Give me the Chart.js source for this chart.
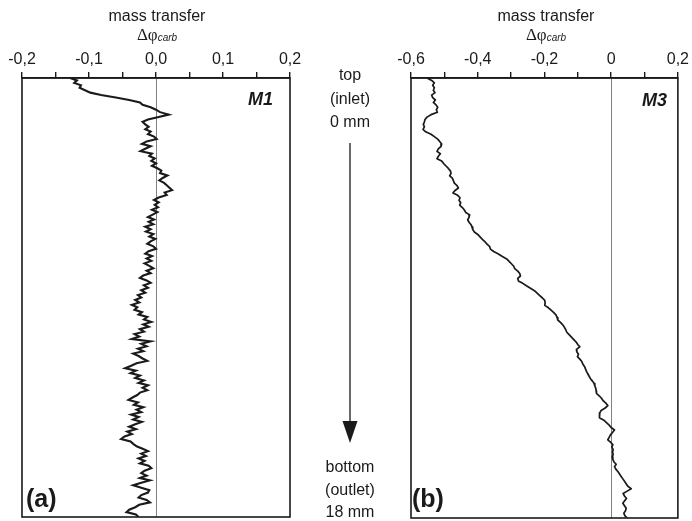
<!DOCTYPE html>
<html>
<head>
<meta charset="utf-8">
<script src="https://cdn.jsdelivr.net/npm/chart.js@4/dist/chart.umd.min.js"></script>
<style>
  html, body { margin: 0; padding: 0; background: #fff; }
  #wrap { position: relative; width: 692px; height: 521px; overflow: hidden; }
  canvas, svg { position: absolute; left: 0; top: 0; }
  svg text { font-family: "Liberation Sans", Arial, sans-serif; fill: #1a1a1a; }
</style>
</head>
<body>
<div id="wrap">
  <canvas id="panelA" width="692" height="521"></canvas>
  <canvas id="panelB" width="692" height="521"></canvas>
  <svg width="692" height="521" viewBox="0 0 692 521">
    <text x="157" y="21" font-size="16" text-anchor="middle">mass transfer</text>
    <text x="157" y="40" text-anchor="middle"><tspan font-family="Liberation Serif" font-size="17">Δφ</tspan><tspan font-size="10" font-style="italic" dy="1">carb</tspan></text>
    <text x="546" y="21" font-size="16" text-anchor="middle">mass transfer</text>
    <text x="546" y="40" text-anchor="middle"><tspan font-family="Liberation Serif" font-size="17">Δφ</tspan><tspan font-size="10" font-style="italic" dy="1">carb</tspan></text>

    <text x="273" y="105" font-size="18" font-weight="bold" font-style="italic" text-anchor="end">M1</text>
    <text x="667" y="106" font-size="18" font-weight="bold" font-style="italic" text-anchor="end">M3</text>
    <text x="26" y="507" font-size="25" font-weight="bold">(a)</text>
    <text x="412" y="507" font-size="25" font-weight="bold">(b)</text>

    <text x="350" y="80" font-size="16" text-anchor="middle">top</text>
    <text x="350" y="104" font-size="16" text-anchor="middle">(inlet)</text>
    <text x="350" y="127" font-size="16" text-anchor="middle">0 mm</text>
    <line x1="350" y1="143" x2="350" y2="424" stroke="#1a1a1a" stroke-width="1.3"/>
    <polygon points="342.5,421 357.5,421 350,443" fill="#1a1a1a"/>
    <text x="350" y="472" font-size="16" text-anchor="middle">bottom</text>
    <text x="350" y="495" font-size="16" text-anchor="middle">(outlet)</text>
    <text x="350" y="517" font-size="16" text-anchor="middle">18 mm</text>
  </svg>
</div>
<script>
// Depth along the sample (mm), 0 = top / inlet, 18 = bottom / outlet
const depthMm = [
  0.0, 0.1, 0.2, 0.3, 0.4, 0.5, 0.6, 0.7, 0.8, 0.9,
  1.0, 1.1, 1.2, 1.3, 1.4, 1.5, 1.6, 1.7, 1.8, 1.9,
  2.0, 2.1, 2.2, 2.3, 2.4, 2.5, 2.6, 2.7, 2.8, 2.9,
  3.0, 3.1, 3.2, 3.3, 3.4, 3.5, 3.6, 3.7, 3.8, 3.9,
  4.0, 4.1, 4.2, 4.3, 4.4, 4.5, 4.6, 4.7, 4.8, 4.9,
  5.0, 5.1, 5.2, 5.3, 5.4, 5.5, 5.6, 5.7, 5.8, 5.9,
  6.0, 6.1, 6.2, 6.3, 6.4, 6.5, 6.6, 6.7, 6.8, 6.9,
  7.0, 7.1, 7.2, 7.3, 7.4, 7.5, 7.6, 7.7, 7.8, 7.9,
  8.0, 8.1, 8.2, 8.3, 8.4, 8.5, 8.6, 8.7, 8.8, 8.9,
  9.0, 9.1, 9.2, 9.3, 9.4, 9.5, 9.6, 9.7, 9.8, 9.9,
  10.0, 10.1, 10.2, 10.3, 10.4, 10.5, 10.6, 10.7, 10.8, 10.9,
  11.0, 11.1, 11.2, 11.3, 11.4, 11.5, 11.6, 11.7, 11.8, 11.9,
  12.0, 12.1, 12.2, 12.3, 12.4, 12.5, 12.6, 12.7, 12.8, 12.9,
  13.0, 13.1, 13.2, 13.3, 13.4, 13.5, 13.6, 13.7, 13.8, 13.9,
  14.0, 14.1, 14.2, 14.3, 14.4, 14.5, 14.6, 14.7, 14.8, 14.9,
  15.0, 15.1, 15.2, 15.3, 15.4, 15.5, 15.6, 15.7, 15.8, 15.9,
  16.0, 16.1, 16.2, 16.3, 16.4, 16.5, 16.6, 16.7, 16.8, 16.9,
  17.0, 17.1, 17.2, 17.3, 17.4, 17.5, 17.6, 17.7, 17.8, 17.9,
  18.0
];

// Sample M1: carbonate volume fraction change
const deltaM1 = [
  -0.128, -0.118, -0.122, -0.112, -0.114, -0.106, -0.098, -0.082, -0.060, -0.040,
  -0.024, -0.020, -0.008, 0.000, 0.006, 0.019, 0.004, -0.012, -0.020, -0.016,
  -0.011, -0.016, -0.008, -0.012, -0.003, 0.001, -0.014, -0.021, -0.008, -0.016,
  -0.023, -0.006, -0.010, -0.002, -0.007, 0.000, -0.006, 0.002, 0.008, 0.006,
  0.017, 0.010, 0.005, 0.012, 0.016, 0.020, 0.024, 0.013, 0.016, 0.004,
  -0.003, 0.004, -0.002, 0.003, -0.006, 0.002, -0.005, -0.012, -0.003, -0.011,
  -0.004, -0.016, -0.008, -0.015, -0.004, -0.010, -0.001, -0.008, -0.013, -0.004,
  0.000, -0.011, -0.016, -0.006, -0.014, -0.007, -0.017, -0.010, -0.004, -0.014,
  -0.008, -0.019, -0.024, -0.014, -0.008, -0.018, -0.012, -0.022, -0.016, -0.027,
  -0.022, -0.031, -0.025, -0.036, -0.028, -0.032, -0.021, -0.026, -0.013, -0.018,
  -0.007, -0.019, -0.011, -0.024, -0.018, -0.032, -0.025, -0.036, -0.008, -0.022,
  -0.014, -0.027, -0.019, -0.034, -0.026, -0.020, -0.013, -0.029, -0.037, -0.046,
  -0.030, -0.038, -0.024, -0.031, -0.018, -0.026, -0.012, -0.020, -0.013, -0.024,
  -0.028, -0.035, -0.041, -0.027, -0.033, -0.019, -0.029, -0.022, -0.037, -0.026,
  -0.034, -0.021, -0.031, -0.040, -0.030, -0.043, -0.036, -0.047, -0.052, -0.038,
  -0.034, -0.029, -0.020, -0.012, -0.022, -0.015, -0.026, -0.017, -0.024, -0.011,
  -0.007, -0.017, -0.022, -0.014, -0.024, -0.009, -0.022, -0.034, -0.022, -0.010,
  -0.012, -0.022, -0.026, -0.014, -0.009, -0.025, -0.031, -0.040, -0.044, -0.030,
  -0.026
];

// Sample M3: carbonate volume fraction change
const deltaM3 = [
  -0.552, -0.538, -0.530, -0.535, -0.530, -0.533, -0.528, -0.538, -0.535, -0.527,
  -0.533, -0.525, -0.520, -0.524, -0.521, -0.540, -0.552, -0.558, -0.560, -0.563,
  -0.560, -0.564, -0.556, -0.540, -0.530, -0.520, -0.514, -0.508, -0.510, -0.518,
  -0.522, -0.512, -0.518, -0.522, -0.508, -0.502, -0.495, -0.488, -0.482, -0.480,
  -0.484, -0.476, -0.473, -0.470, -0.462, -0.458, -0.468, -0.474, -0.460, -0.453,
  -0.456, -0.451, -0.454, -0.446, -0.440, -0.436, -0.424, -0.426, -0.430, -0.426,
  -0.420, -0.417, -0.415, -0.410, -0.400, -0.393, -0.386, -0.378, -0.372, -0.364,
  -0.362, -0.352, -0.338, -0.326, -0.313, -0.306, -0.299, -0.292, -0.289, -0.280,
  -0.274, -0.272, -0.280, -0.278, -0.265, -0.254, -0.242, -0.230, -0.222, -0.214,
  -0.206, -0.199, -0.198, -0.199, -0.188, -0.180, -0.172, -0.165, -0.162, -0.160,
  -0.152, -0.145, -0.140, -0.136, -0.133, -0.126, -0.119, -0.112, -0.105, -0.100,
  -0.094, -0.104, -0.103, -0.098, -0.101, -0.094, -0.088, -0.085, -0.080, -0.077,
  -0.074, -0.070, -0.066, -0.062, -0.056, -0.051, -0.049, -0.046, -0.045, -0.044,
  -0.036, -0.029, -0.024, -0.016, -0.010, -0.018, -0.030, -0.034, -0.036, -0.034,
  -0.022, -0.014, -0.006, 0.000, 0.010, 0.004, -0.002, -0.006, -0.010, -0.002,
  0.005, 0.002, 0.006, 0.004, 0.006, 0.003, 0.005, 0.008, 0.015, 0.010,
  0.014, 0.020, 0.025, 0.030, 0.035, 0.040, 0.045, 0.050, 0.060, 0.048,
  0.036, 0.040, 0.046, 0.040, 0.035, 0.040, 0.045, 0.043, 0.038, 0.041,
  0.048
];

// Axis ticks (labelled values and their printed form)
const ticksM1 = [-0.2, -0.1, 0.0, 0.1, 0.2];
const tickLabelsM1 = ['-0,2', '-0,1', '0,0', '0,1', '0,2'];
const ticksM3 = [-0.6, -0.4, -0.2, 0.0, 0.2];
const tickLabelsM3 = ['-0,6', '-0,4', '-0,2', '0', '0,2'];

const INK = '#1a1a1a';

// Frame around the plot area plus the thin zero reference line
const framePlugin = {
  id: 'frame',
  beforeDatasetsDraw(chart) {
    const { ctx, chartArea: a, scales } = chart;
    const x0 = scales.x.getPixelForValue(0);
    ctx.save();
    ctx.strokeStyle = '#808080';
    ctx.lineWidth = 1;
    ctx.beginPath();
    ctx.moveTo(Math.round(x0) + 0.5, a.top);
    ctx.lineTo(Math.round(x0) + 0.5, a.bottom);
    ctx.stroke();
    ctx.restore();
  },
  afterDraw(chart) {
    const { ctx, chartArea: a } = chart;
    ctx.save();
    ctx.strokeStyle = INK;
    ctx.lineWidth = 1.6;
    ctx.strokeRect(a.left, a.top, a.right - a.left, a.bottom - a.top);
    ctx.restore();
  }
};

function makePanel(canvasId, values, xMin, xMax, step, tickVals, tickLabels, padding, lineWidth, join) {
  const points = depthMm.map((d, i) => ({ x: values[i], y: d }));
  return new Chart(document.getElementById(canvasId), {
    type: 'scatter',
    data: {
      datasets: [{
        data: points,
        showLine: true,
        borderColor: INK,
        borderWidth: lineWidth,
        borderJoinStyle: join,
        pointRadius: 0,
        tension: 0
      }]
    },
    options: {
      responsive: false,
      animation: false,
      layout: { padding },
      plugins: { legend: { display: false }, tooltip: { enabled: false } },
      scales: {
        x: {
          type: 'linear',
          position: 'top',
          min: xMin,
          max: xMax,
          afterFit(scale) { scale.height = 78; },
          border: { display: true, color: INK, width: 1.6 },
          grid: { drawOnChartArea: false, drawTicks: true, tickLength: 6, color: INK, lineWidth: 1.4 },
          ticks: {
            stepSize: step,
            autoSkip: false,
            maxRotation: 0,
            padding: 3,
            color: INK,
            font: { family: '"Liberation Sans", Arial, sans-serif', size: 16 },
            callback(v) {
              const k = tickVals.findIndex(t => Math.abs(t - v) < 1e-6);
              return k >= 0 ? tickLabels[k] : '';
            }
          }
        },
        y: {
          type: 'linear',
          display: false,
          reverse: true,
          min: 0,
          max: 18
        }
      }
    },
    plugins: [framePlugin]
  });
}

makePanel('panelA', deltaM1, -0.2, 0.2, 0.05, ticksM1, tickLabelsM1,
  { left: 22, right: 402, top: 0, bottom: 4 }, 2.1, 'miter');
makePanel('panelB', deltaM3, -0.6, 0.2, 0.1, ticksM3, tickLabelsM3,
  { left: 411, right: 13, top: 0, bottom: 3 }, 1.7, 'round');
</script>
</body>
</html>
